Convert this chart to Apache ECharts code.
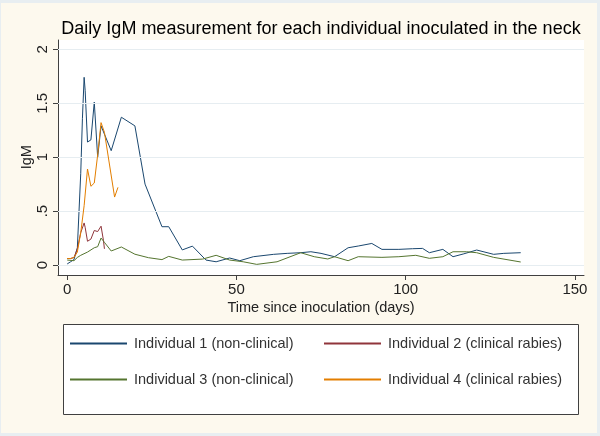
<!DOCTYPE html>
<html>
<head>
<meta charset="utf-8">
<script src="https://cdn.jsdelivr.net/npm/echarts@6/dist/echarts.min.js"></script>
<style>html,body{margin:0;padding:0;background:#e8eef1;}#c{width:600px;height:436px;}</style>
</head>
<body>
<div id="c"></div>
<script>
// ---- data ----
const seriesNames = [
  'Individual 1 (non-clinical)',
  'Individual 2 (clinical rabies)',
  'Individual 3 (non-clinical)',
  'Individual 4 (clinical rabies)'
];
const days1 = [0,1,2,3,4,4.5,5,5.3,6,7,8,9,10,13,16,20,23,28,30,34,37,41,44,48,51,55,61,65,69,72,75,79,83,86,90,93,98,102,105,107,111,114,117,121,126,129,134];
const igm1  = [0.01,0.03,0.05,0.16,0.85,1.36,1.74,1.62,1.14,1.16,1.51,1.0,1.29,1.06,1.37,1.29,0.75,0.355,0.355,0.14,0.175,0.046,0.03,0.065,0.04,0.077,0.099,0.108,0.114,0.123,0.108,0.077,0.16,0.176,0.2,0.145,0.145,0.151,0.154,0.114,0.145,0.077,0.102,0.139,0.099,0.108,0.114];
const days2 = [0,1,2,3,4,5,5.3,6,7,8,9,10,10.7,11];
const igm2  = [0.06,0.06,0.07,0.15,0.3,0.39,0.35,0.22,0.24,0.32,0.31,0.36,0.23,0.15];
const days3 = [0,2,3,4,6,8,9,10,11,13,16,20,24,28,30,34,40,44,48,52,56,62,69,73,77,79,83,86,93,98,103,107,111,114,118,121,126,134];
const igm3  = [0.046,0.04,0.07,0.09,0.12,0.16,0.17,0.25,0.21,0.13,0.167,0.1,0.068,0.05,0.08,0.046,0.055,0.09,0.046,0.03,0.006,0.03,0.114,0.077,0.056,0.077,0.04,0.077,0.071,0.077,0.09,0.062,0.077,0.123,0.123,0.114,0.071,0.028];
const days4 = [0,1,2,3,4,5,6,7,8,9,10,11,14,15];
const igm4  = [0.06,0.06,0.07,0.12,0.3,0.55,0.89,0.73,0.76,1.02,1.32,1.23,0.63,0.72];
const xTicks = [0,50,100,150];
const yTicks = [0,0.5,1,1.5,2];
const yTickLabels = ['0','.5','1','1.5','2'];
const colors = ['#1a476f','#90353b','#55752f','#e37e00'];

const pairs = (d, v) => d.map((x, i) => [x, v[i]]);
const allDays = [days1, days2, days3, days4];
const allIgm = [igm1, igm2, igm3, igm4];

const FONT = 'Liberation Sans, Arial, sans-serif';
const AX = '#404040';

const chart = echarts.init(document.getElementById('c'), null, {renderer: 'canvas'});

const dataSeries = seriesNames.map((name, i) => ({
  name: name,
  type: 'line',
  xAxisIndex: 0,
  yAxisIndex: 0,
  data: pairs(allDays[i], allIgm[i]),
  symbol: 'none',
  showSymbol: false,
  color: colors[i],
  lineStyle: {width: 1, color: colors[i]},
  itemStyle: {color: colors[i]},
  z: 3 + i,
  animation: false
}));

const legendCommon = {
  orient: 'vertical', top: 336, padding: 0,
  itemWidth: 57, itemHeight: 14, itemGap: 21, z: 20,
  itemStyle: {opacity: 0, borderWidth: 0},
  textStyle: {fontFamily: FONT, fontSize: 14.5, color: '#333', padding: [0, 0, 0, 2]}
};

const option = {
  animation: false,
  color: colors,
  backgroundColor: '#e8eef1',
  title: {
    text: 'Daily IgM measurement for each individual inoculated in the neck',
    left: 321,
    top: 20,
    padding: 0,
    textAlign: 'center',
    textStyle: {fontFamily: FONT, fontSize: 18, fontWeight: 'normal', color: '#000'}
  },
  graphic: [
    {type: 'rect', z: -10, silent: true, shape: {x: 1, y: 3, width: 596, height: 430}, style: {fill: '#fdf9ee'}},
    {type: 'rect', z: -5, silent: true, shape: {x: 63.5, y: 324.5, width: 515, height: 90}, style: {fill: '#fff', stroke: AX, lineWidth: 1}}
  ],
  grid: [
    {left: 58, top: 40, width: 526, height: 235, show: true, backgroundColor: '#fff', borderWidth: 0},
    {left: 67.2, top: 49.3, width: 507.7, height: 215.7, show: false}
  ],
  xAxis: [
    {gridIndex: 0, type: 'value', min: -2.72, max: 152.7,
     axisLine: {show: true, onZero: false, lineStyle: {color: AX, width: 1}},
     axisTick: {show: false}, axisLabel: {show: false}, splitLine: {show: false}},
    {gridIndex: 1, type: 'value', min: 0, max: 150, interval: 50, offset: 10,
     name: 'Time since inoculation (days)', nameLocation: 'middle', nameGap: 25,
     nameTextStyle: {fontFamily: FONT, fontSize: 14.5, color: '#222', verticalAlign: 'top'},
     axisLine: {show: false, onZero: false},
     axisTick: {show: true, inside: false, length: 5, lineStyle: {color: AX}},
     axisLabel: {show: true, margin: 7, fontFamily: FONT, fontSize: 15, color: '#222'},
     splitLine: {show: false}}
  ],
  yAxis: [
    {gridIndex: 0, type: 'value', min: -0.0926, max: 2.086,
     axisLine: {show: true, onZero: false, lineStyle: {color: AX, width: 1}},
     axisTick: {show: false}, axisLabel: {show: false}, splitLine: {show: false}},
    {gridIndex: 1, type: 'value', min: 0, max: 2, interval: 0.5, offset: 9.2,
     name: 'IgM', nameLocation: 'middle', nameGap: 24, nameRotate: 90, nameMoveOverlap: false,
     nameTextStyle: {fontFamily: FONT, fontSize: 14.5, color: '#222'},
     axisLine: {show: false, onZero: false},
     axisTick: {show: true, inside: false, length: 5, lineStyle: {color: AX}},
     axisLabel: {show: true, rotate: 90, margin: 8, fontFamily: FONT, fontSize: 15, color: '#222',
       formatter: (v) => { const k = yTicks.indexOf(v); return k >= 0 ? yTickLabels[k] : ''; }},
     splitLine: {show: false}}
  ],
  legend: [
    Object.assign({data: [seriesNames[0], seriesNames[2]], left: 69}, legendCommon),
    Object.assign({data: [seriesNames[1], seriesNames[3]], left: 323}, legendCommon)
  ],
  series: dataSeries.concat([
    {type: 'line', name: '_grid', xAxisIndex: 0, yAxisIndex: 0, data: [], z: 1, silent: true,
     color: '#e6edf1',
     markLine: {silent: true, symbol: 'none', animation: false, label: {show: false},
       lineStyle: {color: '#e6edf1', type: 'solid', width: 1},
       data: yTicks.map(v => ({yAxis: v}))}}
  ])
};
chart.setOption(option);
</script>
</body>
</html>
